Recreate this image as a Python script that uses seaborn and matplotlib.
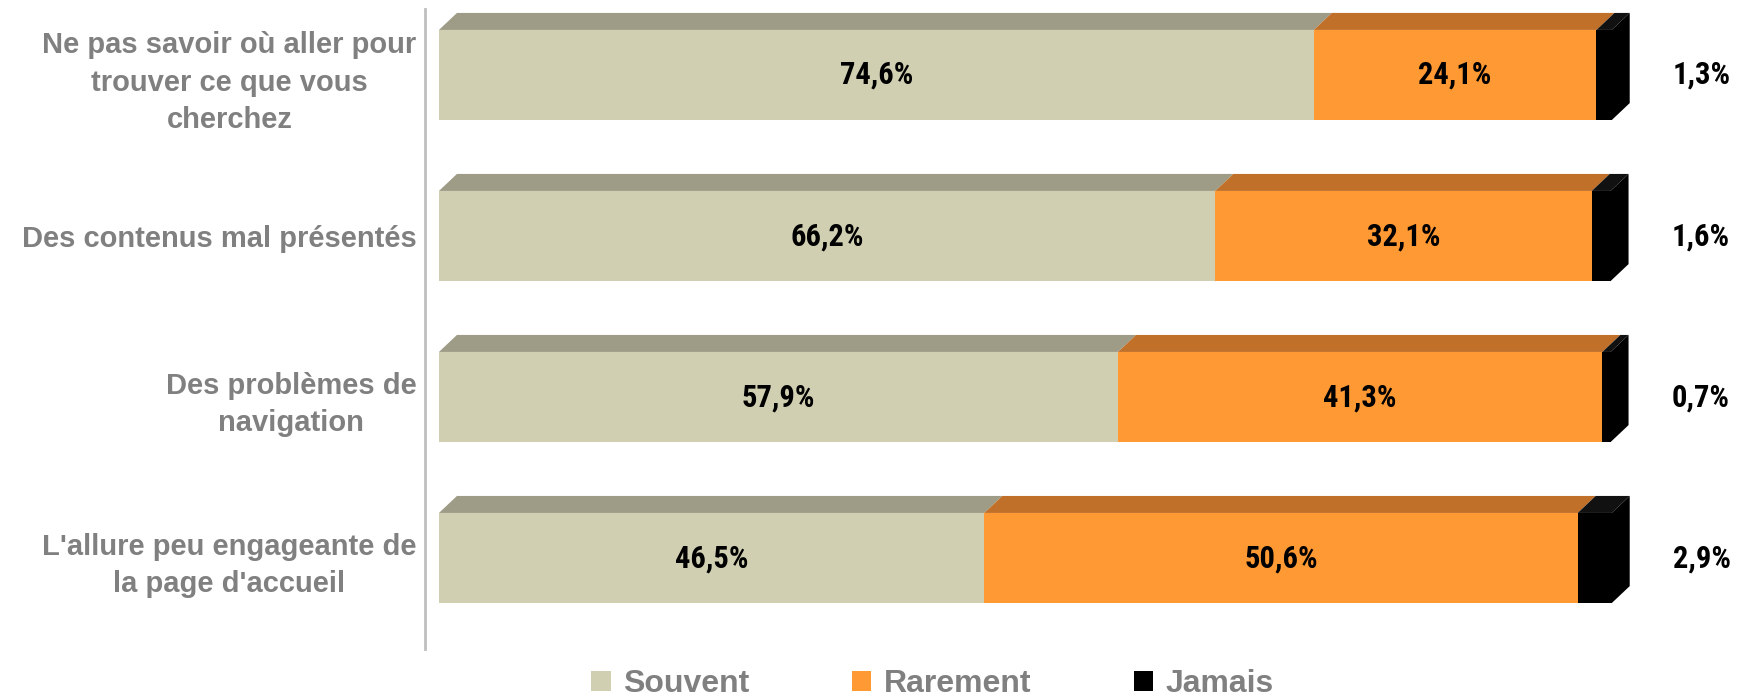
import numpy as np
import pandas as pd
import matplotlib
matplotlib.use("Agg")
import matplotlib.pyplot as plt
from matplotlib.patches import Polygon, Patch
import seaborn as sns

categories = [
    "Ne pas savoir où aller pour\ntrouver ce que vous\ncherchez",
    "Des contenus mal présentés",
    "Des problèmes de\nnavigation",
    "L'allure peu engageante de\nla page d'accueil",
]
souvent = [74.6, 66.2, 57.9, 46.5]
rarement = [24.1, 32.1, 41.3, 50.6]
jamais = [1.3, 1.6, 0.7, 2.9]

series = ["Souvent", "Rarement", "Jamais"]
front = ["#D1CFB2", "#FF9933", "#000000"]
top = ["#9E9C87", "#C07028", "#111111"]

df = pd.DataFrame({"cat": categories, "Souvent": souvent,
                   "Rarement": rarement, "Jamais": jamais})
df["c1"] = df["Souvent"]
df["c2"] = df["Souvent"] + df["Rarement"]
df["c3"] = df["c2"] + df["Jamais"]

sns.set_style("white")
plt.rcParams["font.family"] = ["Liberation Sans", "DejaVu Sans"]
narrow = ["Roboto Condensed", "Liberation Sans", "DejaVu Sans"]

W, H = 1763, 696
fig = plt.figure(figsize=(W / 100, H / 100), dpi=100)
ax = fig.add_axes([425 / W, 47 / H, (W - 425) / W, 640 / H])

# stacked bars drawn as overlapping cumulative totals
for col, c in zip(["c3", "c2", "c1"], front[::-1]):
    sns.barplot(data=df, y="cat", x=col, color=c, width=0.56,
                orient="h", ax=ax, saturation=1, linewidth=0)

ax.set_xlim(-1.19, 112.9)
ax.set_ylim(3.565, -0.41)
fig.canvas.draw()

# 3D depth (pixels) converted to data units
depth_px = np.array([18, 17])
p0 = ax.transData.inverted().transform(ax.transData.transform((0, 0)))
p1 = ax.transData.inverted().transform(ax.transData.transform((0, 0)) + depth_px)
dx, dy = p1 - p0

hw = 0.28
lefts = [np.zeros(4), df["c1"].values, df["c2"].values]
widths = [df["Souvent"].values, df["Rarement"].values, df["Jamais"].values]
for s in range(3):
    for i in range(4):
        x0 = lefts[s][i]
        x1 = x0 + widths[s][i]
        yt = i - hw
        poly = Polygon([(x0, yt), (x1, yt), (x1 + dx, yt + dy), (x0 + dx, yt + dy)],
                       closed=True, facecolor=top[s], edgecolor="none", zorder=1)
        ax.add_patch(poly)
for i in range(4):
    x1 = df["c3"].values[i]
    yt, yb = i - hw, i + hw
    side = Polygon([(x1, yt), (x1 + dx, yt + dy), (x1 + dx, yb + dy), (x1, yb)],
                   closed=True, facecolor="#000000", edgecolor="none", zorder=1)
    ax.add_patch(side)

# value labels
def fmt(v):
    return f"{v:.1f}%".replace(".", ",")

for i in range(4):
    ax.text(souvent[i] / 2, i, fmt(souvent[i]), family=narrow,
            ha="center", va="center", fontsize=22, fontweight="bold", color="black")
    ax.text(df["c1"].values[i] + rarement[i] / 2, i, fmt(rarement[i]), family=narrow,
            ha="center", va="center", fontsize=22, fontweight="bold", color="black")
    ax.text(df["c3"].values[i] + 7.7, i, fmt(jamais[i]), family=narrow,
            ha="center", va="center", fontsize=22, fontweight="bold", color="black")

ax.set_xlabel("")
ax.set_ylabel("")
ax.set_xticks([])
ax.set_yticks(range(4))
ax.set_yticklabels(categories, fontsize=21, fontweight="bold", color="#808080",
                   multialignment="center", linespacing=1.42)
ax.tick_params(axis="y", length=0, pad=6)
for sp in ["top", "right", "bottom"]:
    ax.spines[sp].set_visible(False)
ax.spines["left"].set_color("#BFBFBF")
ax.spines["left"].set_linewidth(2)

handles = [Patch(facecolor=c, edgecolor="none") for c in front]
leg = fig.legend(handles, series, loc="center", bbox_to_anchor=(0.529, 1 - 684 / H),
                 ncol=3, frameon=False, fontsize=23, handlelength=0.6, handleheight=0.6,
                 handletextpad=0.4, columnspacing=3.2)
for t in leg.get_texts():
    t.set_color("#808080")
    t.set_fontweight("bold")

fig.savefig("out.png", dpi=100)
